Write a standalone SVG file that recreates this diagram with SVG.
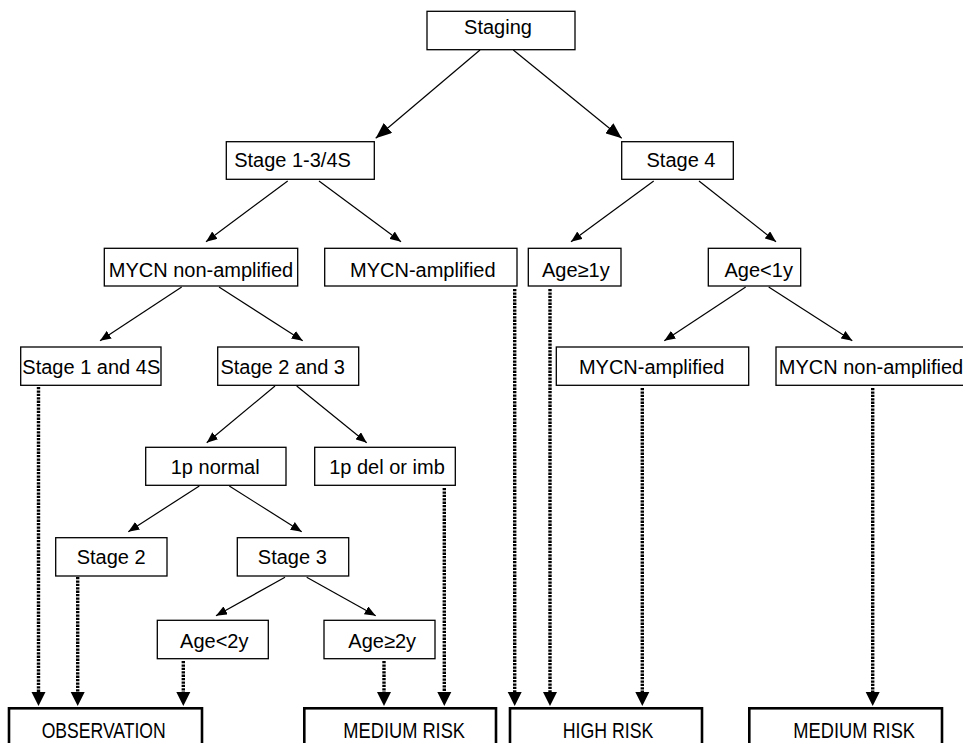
<svg xmlns="http://www.w3.org/2000/svg" xmlns:xlink="http://www.w3.org/1999/xlink" width="963" height="743" viewBox="0 0 963 743">
<style>
.box{fill:#fff;stroke:#000;stroke-width:1.3}
.out{fill:#fff;stroke:#000;stroke-width:2.6}
.t{font-family:"Liberation Sans",Arial,sans-serif;font-size:20px;fill:#000;text-anchor:middle}
.to{font-family:"Liberation Sans",Arial,sans-serif;font-size:22.5px;fill:#000;text-anchor:middle}
.s{fill:none;stroke:#000;stroke-width:1.2;marker-end:url(#sm)}
.sb{fill:none;stroke:#000;stroke-width:1.2;marker-end:url(#bg)}
.d{fill:none;stroke:#000;stroke-width:3.4;stroke-dasharray:2.3 1.1}
</style>
<defs>
<marker id="sm" markerUnits="userSpaceOnUse" markerWidth="11" markerHeight="9" refX="11" refY="4.5" orient="auto" viewBox="0 0 11 9"><path d="M0,0 L11,4.5 L0,9 z" fill="#000"/></marker>
<marker id="bg" markerUnits="userSpaceOnUse" markerWidth="16" markerHeight="13" refX="16" refY="6.5" orient="auto" viewBox="0 0 16 13"><path d="M0,0 L16,6.5 L0,13 z" fill="#000"/></marker>
<path id="dh" d="M-7,-14 L7,-14 L0,0 z" fill="#000"/>
</defs>

<g id="connectors">
<path class="sb" d="M480,50 L375.7,138.3"/>
<path class="sb" d="M513.3,50 L621.7,138.3"/>
<path class="s" d="M287.7,181 L206,241.7"/>
<path class="s" d="M319,181 L401,241.7"/>
<path class="s" d="M653.7,181 L571,241.7"/>
<path class="s" d="M699,181 L776,241.7"/>
<path class="s" d="M181.7,287 L100,340.7"/>
<path class="s" d="M219,287 L302.7,340.7"/>
<path class="s" d="M745.7,287 L664.3,340.7"/>
<path class="s" d="M768.7,287 L852.3,340.7"/>
<path class="s" d="M275,386 L206.7,442.7"/>
<path class="s" d="M296.7,386 L366.7,442.7"/>
<path class="s" d="M199.3,486 L128.3,531.7"/>
<path class="s" d="M229.3,486 L301.7,531.7"/>
<path class="s" d="M285,577.3 L216,615.7"/>
<path class="s" d="M306.7,577.3 L375.7,615.7"/>
<path class="d" d="M38.5,387 L38.5,693"/><use xlink:href="#dh" href="#dh" x="38.5" y="706"/>
<path class="d" d="M77.7,577 L77.7,693"/><use xlink:href="#dh" href="#dh" x="77.7" y="706"/>
<path class="d" d="M183.3,661 L183.3,693"/><use xlink:href="#dh" href="#dh" x="183.3" y="706"/>
<path class="d" d="M384,661 L384,693"/><use xlink:href="#dh" href="#dh" x="384" y="706"/>
<path class="d" d="M444.3,488 L444.3,693"/><use xlink:href="#dh" href="#dh" x="444.3" y="706"/>
<path class="d" d="M514.7,289 L514.7,693"/><use xlink:href="#dh" href="#dh" x="514.7" y="706"/>
<path class="d" d="M550,289 L550,693"/><use xlink:href="#dh" href="#dh" x="550" y="706"/>
<path class="d" d="M642.3,388 L642.3,693"/><use xlink:href="#dh" href="#dh" x="642.3" y="706"/>
<path class="d" d="M872.7,388 L872.7,693"/><use xlink:href="#dh" href="#dh" x="872.7" y="706"/>
</g>

<g id="staging"><rect class="box" x="427" y="11.3" width="148" height="38.4"/><text class="t" x="498" y="33.5">Staging</text></g>
<g id="stage13_4s"><rect class="box" x="226.3" y="141.7" width="148" height="37.6"/><text class="t" x="292.5" y="166.5">Stage 1-3/4S</text></g>
<g id="stage4"><rect class="box" x="621.7" y="141.7" width="111.6" height="37.6"/><text class="t" x="681" y="166.5">Stage 4</text></g>
<g id="mycn_non_amp_l"><rect class="box" x="104.3" y="248.3" width="193.4" height="37.7"/><text class="t" x="201" y="276.5">MYCN non-amplified</text></g>
<g id="mycn_amp_l"><rect class="box" x="324.7" y="248.3" width="192.3" height="37.7"/><text class="t" x="422.8" y="276.5">MYCN-amplified</text></g>
<g id="age_ge_1y"><rect class="box" x="528.3" y="248.3" width="92.7" height="37.7"/><text class="t" x="575.8" y="276.5">Age≥1y</text></g>
<g id="age_lt_1y"><rect class="box" x="708.3" y="248.3" width="92.4" height="37.7"/><text class="t" x="758.7" y="276.5">Age&lt;1y</text></g>
<g id="stage1_4s"><rect class="box" x="20.7" y="347" width="140.3" height="38.3"/><text class="t" x="91.3" y="374">Stage 1 and 4S</text></g>
<g id="stage2_3"><rect class="box" x="217.7" y="347" width="141" height="38.3"/><text class="t" x="282.7" y="374">Stage 2 and 3</text></g>
<g id="mycn_amp_r"><rect class="box" x="556.3" y="347" width="192.4" height="38.3"/><text class="t" x="651.7" y="374">MYCN-amplified</text></g>
<g id="mycn_non_amp_r"><rect class="box" x="776" y="347" width="194" height="38.3"/><text class="t" x="871" y="374">MYCN non-amplified</text></g>
<g id="p1_normal"><rect class="box" x="145.7" y="447.3" width="140.3" height="38"/><text class="t" x="215.2" y="474.3">1p normal</text></g>
<g id="p1_del"><rect class="box" x="314.7" y="447.3" width="140.6" height="38"/><text class="t" x="387" y="474.3">1p del or imb</text></g>
<g id="stage2"><rect class="box" x="55.7" y="537.7" width="111.3" height="38.3"/><text class="t" x="111.2" y="564">Stage 2</text></g>
<g id="stage3"><rect class="box" x="237.3" y="537.7" width="111.4" height="38.3"/><text class="t" x="292.3" y="564">Stage 3</text></g>
<g id="age_lt_2y"><rect class="box" x="157.3" y="620.3" width="111" height="38.4"/><text class="t" x="214.3" y="648">Age&lt;2y</text></g>
<g id="age_ge_2y"><rect class="box" x="324" y="620.3" width="111" height="38.4"/><text class="t" x="382.2" y="648">Age≥2y</text></g>

<g id="observation"><rect class="out" x="9" y="708.3" width="193" height="50"/><text class="to" x="103.7" y="738" textLength="124" lengthAdjust="spacingAndGlyphs">OBSERVATION</text></g>
<g id="medium_risk_l"><rect class="out" x="304.3" y="708.3" width="191.7" height="50"/><text class="to" x="404.2" y="738" textLength="121.7" lengthAdjust="spacingAndGlyphs">MEDIUM RISK</text></g>
<g id="high_risk"><rect class="out" x="510" y="708.3" width="192" height="50"/><text class="to" x="608" y="738" textLength="90.7" lengthAdjust="spacingAndGlyphs">HIGH RISK</text></g>
<g id="medium_risk_r"><rect class="out" x="749.3" y="708.3" width="192.7" height="50"/><text class="to" x="854.2" y="738" textLength="121.7" lengthAdjust="spacingAndGlyphs">MEDIUM RISK</text></g>
</svg>
